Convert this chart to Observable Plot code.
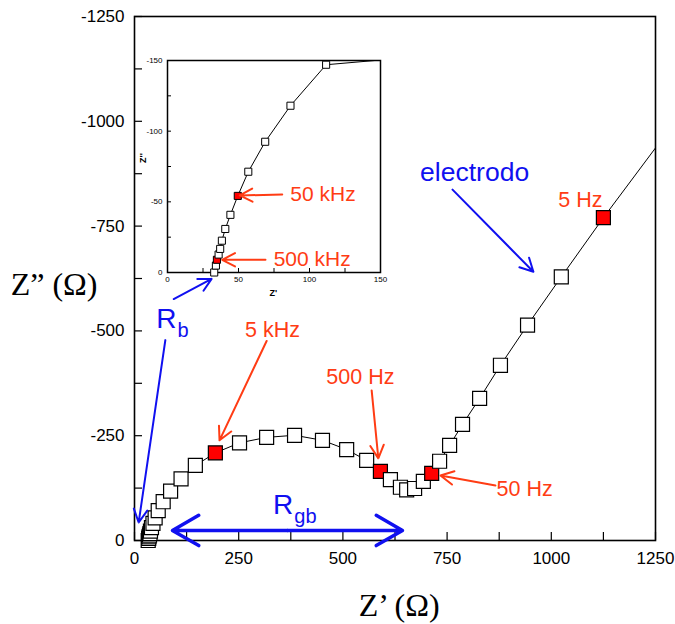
<!DOCTYPE html>
<html><head><meta charset="utf-8">
<script src="https://cdn.jsdelivr.net/npm/d3@7"></script>
<script src="https://cdn.jsdelivr.net/npm/@observablehq/plot@0.6"></script>
<style>
body{margin:0;background:#fff;}
#wrap{position:relative;width:675px;height:624px;}
#inset{position:absolute;left:132px;top:54px;}
</style></head><body><div id="wrap"><div id="main"></div><div id="inset"></div></div>
<script>
// Z' (real part, ohm)
const zReal = [32.9, 34.1, 34.8, 36.0, 37.1, 38.3, 40.7, 44.3, 49.5, 56.9, 68.8, 86.6, 111.7,
  146, 194, 252, 317, 384, 451, 509, 557, 590, 614, 638, 653, 672, 693, 713,
  732, 756, 787, 828, 878, 943, 1024, 1125, 1300];
// Z'' (imaginary part, ohm)
const zImag = [0, -4.9, -9.0, -12.7, -16.7, -22.5, -30.8, -40.8, -54.2, -71.3, -92.5, -118, -147,
  -179, -209, -233, -246, -251, -239, -217, -191, -165, -145, -127, -121, -124, -141, -160,
  -189, -227, -277, -339, -418, -514, -629, -770, -1003];
// indices of the frequency-marked (red) points, in the main chart and in the inset
const mainMarkedIdx = [14, 21, 27, 35];
const insetMarkedIdx = [2, 8];
const freqLabels = ["500 kHz", "50 kHz", "5 kHz", "500 Hz", "50 Hz", "5 Hz"];
const mainTicks = [0, 250, 500, 750, 1000, 1250];
const mainMinor = [0, 125, 250, 375, 500, 625, 750, 875, 1000, 1125, 1250];
const insetTicks = [0, 50, 100, 150];
const insetMinor = [0, 25, 50, 75, 100, 125, 150];

const RED = "#ff3c14", BLUE = "#1010f0";
const pts = zReal.map((x, i) => ({x, y: zImag[i], i}));
const fmt = d => String(d);

// annotation placement (data coordinates)
const mainRedNotes = [
  {text: freqLabels[5], x: 1070, y: -813},
  {text: freqLabels[2], x: 331, y: -502},
  {text: freqLabels[3], x: 542, y: -390},
  {text: freqLabels[4], x: 936, y: -122}
];
const mainRedArrows = [
  {x1: 317, y1: -476, x2: 204, y2: -239},
  {x1: 569, y1: -358, x2: 585, y2: -196},
  {x1: 866, y1: -131, x2: 734, y2: -155}
];
const mainBlueArrows = [
  {x1: 763, y1: -837, x2: 957, y2: -641},
  {x1: 74, y1: -478, x2: 10, y2: -43},
  {x1: 94, y1: -576, x2: 185, y2: -624}
];
const rgbArrows = [
  {x1: 367, y1: -24, x2: 91, y2: -24},
  {x1: 367, y1: -24, x2: 643, y2: -24}
];
const insetNotes = [
  {text: freqLabels[1], x: 109.5, y: -55.6},
  {text: freqLabels[0], x: 101.9, y: -9.2}
];
const insetArrows = [
  {x1: 80.8, y1: -55.2, x2: 50.9, y2: -54.5},
  {x1: 69, y1: -9, x2: 38.5, y2: -9}
];

const SANS = "Liberation Sans, Arial, sans-serif";
const SERIF = "Liberation Serif, Times New Roman, serif";

const main = Plot.plot({
  width: 675, height: 624,
  marginLeft: 134, marginRight: 20, marginTop: 16, marginBottom: 84,
  x: {domain: [0, 1250]},
  y: {domain: [0, -1250]},
  style: {fontFamily: SANS, background: "transparent", color: "black"},
  marks: [
    Plot.axisX(mainMinor, {tickSize: -8, tickFormat: () => "", label: null, strokeWidth: 1.2}),
    Plot.axisY(mainMinor.map(d => -d), {tickSize: -8, tickFormat: () => "", label: null, strokeWidth: 1.2}),
    Plot.axisX(mainTicks, {tickSize: 0, tickPadding: 11, tickFormat: fmt, fontSize: 17, label: null}),
    Plot.axisY(mainTicks.map(d => -d), {tickSize: 0, tickPadding: 10, tickFormat: fmt, fontSize: 17, label: null}),
    Plot.frame({stroke: "black", strokeWidth: 1.6}),
    Plot.line(pts, {x: "x", y: "y", stroke: "black", strokeWidth: 1, clip: true}),
    Plot.dot(pts.filter(d => d.x <= 1250), {x: "x", y: "y", symbol: "square", r: 7.9,
      fill: d => mainMarkedIdx.includes(d.i) ? "#ff0000" : "white", stroke: "black", strokeWidth: 1.2}),
    Plot.arrow(mainRedArrows, {x1: "x1", y1: "y1", x2: "x2", y2: "y2", stroke: RED, strokeWidth: 2, headLength: 11, headAngle: 55}),
    Plot.arrow(mainBlueArrows, {x1: "x1", y1: "y1", x2: "x2", y2: "y2", stroke: BLUE, strokeWidth: 2, headLength: 11, headAngle: 55}),
    Plot.arrow(rgbArrows, {x1: "x1", y1: "y1", x2: "x2", y2: "y2", stroke: BLUE, strokeWidth: 3.5, headLength: 13, headAngle: 60}),
    Plot.text(mainRedNotes, {x: "x", y: "y", text: "text", fill: RED, fontSize: 21.5}),
    Plot.text(["electrodo"], {x: () => 816, y: () => -877, text: d => d, fill: BLUE, fontSize: 26.5}),
    Plot.text(["R"], {x: () => 101, y: () => -528, text: d => d, fill: BLUE, fontSize: 28, textAnchor: "end"}),
    Plot.text(["b"], {x: () => 101, y: () => -528, text: d => d, fill: BLUE, fontSize: 20, textAnchor: "start", dx: 1, dy: 11}),
    Plot.text(["R"], {x: () => 381, y: () => -84, text: d => d, fill: BLUE, fontSize: 28, textAnchor: "end"}),
    Plot.text(["gb"], {x: () => 381, y: () => -84, text: d => d, fill: BLUE, fontSize: 20, textAnchor: "start", dx: 1, dy: 11}),
    Plot.text(["Z\u2019 (\u03A9)"], {x: () => 635, y: () => 155, text: d => d, fontSize: 32, fontFamily: SERIF}),
    Plot.text(["Z\u201D (\u03A9)"], {x: () => -193, y: () => -609, text: d => d, fontSize: 32, fontFamily: SERIF})
  ]
});
document.getElementById("main").appendChild(main);

const clampPts = pts.map(d => ({x: Math.min(150, Math.max(0, d.x)), y: Math.max(-150, Math.min(0, d.y))}));
const inPts = pts.filter(d => d.x <= 150 && d.y >= -150);

const inset = Plot.plot({
  width: 262, height: 248,
  marginLeft: 35, marginRight: 14, marginTop: 6, marginBottom: 30,
  x: {domain: [0, 150]},
  y: {domain: [0, -150]},
  style: {fontFamily: SANS, background: "transparent", color: "black"},
  marks: [
    Plot.axisX(insetMinor, {tickSize: -4, tickFormat: () => "", label: null}),
    Plot.axisY(insetMinor.map(d => -d), {tickSize: -4, tickFormat: () => "", label: null}),
    Plot.axisX(insetTicks, {tickSize: 0, tickPadding: 4, tickFormat: fmt, fontSize: 8, label: null}),
    Plot.axisY(insetTicks.map(d => -d), {tickSize: 0, tickPadding: 5, tickFormat: fmt, fontSize: 8, label: null}),
    Plot.frame({stroke: "black", strokeWidth: 1.5}),
    Plot.line(clampPts, {x: "x", y: "y", stroke: "black", strokeWidth: 1}),
    Plot.dot(inPts, {x: "x", y: "y", symbol: "square", r: 4,
      fill: d => insetMarkedIdx.includes(d.i) ? "#ff0000" : "white", stroke: "black", strokeWidth: 1}),
    Plot.arrow(insetArrows, {x1: "x1", y1: "y1", x2: "x2", y2: "y2", stroke: RED, strokeWidth: 2, headLength: 11, headAngle: 55}),
    Plot.text(insetNotes, {x: "x", y: "y", text: "text", fill: RED, fontSize: 21}),
    Plot.text(["Z'"], {x: () => 74.6, y: () => 14.9, text: d => d, fontSize: 9, fontWeight: "bold"}),
    Plot.text(["Z''"], {x: () => -16.9, y: () => -81, text: d => d, fontSize: 9, fontWeight: "bold", rotate: -90})
  ]
});
document.getElementById("inset").appendChild(inset);
</script></body></html>
